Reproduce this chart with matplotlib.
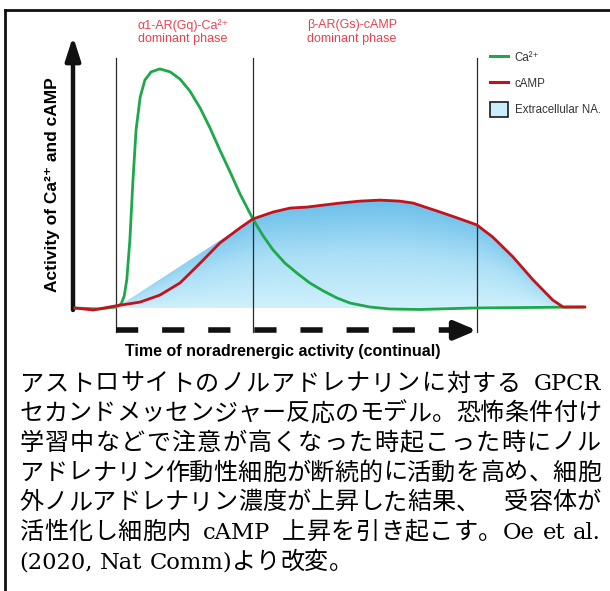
import numpy as np
import matplotlib
matplotlib.use("Agg")
import matplotlib.pyplot as plt
from matplotlib.colors import LinearSegmentedColormap
from matplotlib.lines import Line2D
from matplotlib.patches import Patch

# ---- values (time 0-100, activity 0-100) ----
ca_t = [0.4, 5.2, 8.3, 9.3, 9.9, 10.4, 11.0, 11.6, 12.2, 13.0, 13.9, 15.1, 16.8,
        18.8, 20.7, 22.6, 24.6, 26.5, 28.4, 30.4, 32.3, 34.8, 36.8, 38.7, 41.0,
        43.3, 45.8, 48.4, 51.1, 53.6, 57.4, 61.3, 67.1, 77.4, 98.6]
ca_y = [0.0, -0.4, 0.4, 1.6, 4.8, 11.3, 27.4, 51.6, 71.8, 85.1, 91.9, 95.2, 96.4,
        95.2, 92.3, 87.5, 80.6, 72.6, 63.7, 54.8, 46.0, 35.9, 29.0, 23.4, 18.1,
        14.1, 10.1, 6.9, 4.0, 2.0, 0.4, -0.4, -0.6, 0.0, 0.4]

camp_t = [0.4, 3.9, 8.1, 13.0, 16.8, 20.7, 24.6, 28.4, 32.3, 34.8, 38.7, 42.0,
          45.3, 51.6, 55.5, 59.4, 63.2, 65.8, 71.0, 74.9, 78.1, 81.2, 85.1,
          89.0, 92.8, 94.8, 99.0]
camp_y = [0.0, -0.8, 0.8, 2.4, 5.2, 10.1, 18.1, 26.2, 32.3, 35.9, 38.7, 40.3,
          40.7, 42.3, 43.1, 43.5, 43.1, 42.3, 38.7, 35.9, 33.5, 28.6, 20.6,
          11.3, 3.2, 0.4, 0.4]

na_t = [8.3, 34.8, 38.7, 42.0, 45.3, 51.6, 55.5, 59.4, 63.2, 65.8, 71.0, 74.9,
        78.1, 81.2, 85.1, 89.0, 92.8, 94.8, 95.5]
na_y = [0.0, 35.9, 38.7, 40.3, 40.7, 42.3, 43.1, 43.5, 43.1, 42.3, 38.7, 35.9,
        33.5, 28.6, 20.6, 11.3, 3.2, 0.4, 0.0]

phase_t = [8.3, 34.8, 78.1]
phase_labels = ["α1-AR(Gq)-Ca²⁺\ndominant phase", "β-AR(Gs)-cAMP\ndominant phase"]
phase_label_t = [21.3, 54.0]

legend_labels = ["Ca²⁺", "cAMP", "Extracellular NA."]

caption = [
    "アストロサイトのノルアドレナリンに対する GPCR",
    "セカンドメッセンジャー反応のモデル。恐怖条件付け",
    "学習中などで注意が高くなった時起こった時にノル",
    "アドレナリン作動性細胞が断続的に活動を高め、細胞",
    "外ノルアドレナリン濃度が上昇した結果、　受容体が",
    "活性化し細胞内 cAMP 上昇を引き起こす。Oe et al.",
    "(2020, Nat Comm)より改変。",
]

GREEN = "#1ea84c"
RED = "#c4121c"
PINK = "#e8424f"
SANS = ["Liberation Sans", "DejaVu Sans"]

W, H = 610, 591
fig = plt.figure(figsize=(W / 100, H / 100), dpi=100)
ax = fig.add_axes([73 / W, 1 - 308 / H, 517 / W, 248 / H])

# extracellular NA: blue shading, darker towards the upper edge
poly = ax.fill_between(na_t, 0, na_y, color="none", lw=0)
cmap = LinearSegmentedColormap.from_list("na", ["#d0f1fc", "#abdff6", "#6cc0ea"])
gx = np.linspace(min(na_t), max(na_t), 400)
gy = np.linspace(0, max(na_y), 200)
top = np.maximum(np.interp(gx, na_t, na_y), 1.0)
shade = 0.55 * (gy[:, None] / top[None, :]) + 0.45 * (gy[:, None] / max(na_y))
im = ax.imshow(np.clip(shade, 0, 1), extent=[gx[0], gx[-1], 0, gy[-1]],
               origin="lower", cmap=cmap, aspect="auto", zorder=1, vmin=0, vmax=1)
im.set_clip_path(poly.get_paths()[0], transform=ax.transData)

# phase boundaries
for t in phase_t:
    ax.plot([t, t], [-9.7, 100.8], color="#2a2a2a", lw=0.9, zorder=2, clip_on=False)

ax.plot(ca_t, ca_y, color=GREEN, lw=2.0, zorder=4, clip_on=False)
ax.plot(camp_t, camp_y, color=RED, lw=2.0, zorder=5, clip_on=False)

# y axis arrow
ax.annotate("", xy=(0, 109.5), xytext=(0, -0.8), annotation_clip=False,
            arrowprops=dict(arrowstyle="-|>,head_length=1.4,head_width=0.45",
                            color="#111", lw=3.2, shrinkA=0, shrinkB=0))

# dashed time arrow
ax.plot([phase_t[0], 73.8], [-9.0, -9.0], color="#111", lw=4,
        linestyle=(0, (4.0, 4.3)), clip_on=False, zorder=3)
ax.annotate("", xy=(phase_t[2], -9.0), xytext=(73.0, -9.0), annotation_clip=False,
            arrowprops=dict(arrowstyle="-|>,head_length=1.3,head_width=0.55",
                            color="#111", lw=4, shrinkA=0, shrinkB=0))

for lab, t in zip(phase_labels, phase_label_t):
    ax.text(t, 111.3, lab, color=PINK, fontsize=9, ha="center", va="center",
            linespacing=1.15, family=SANS)

ax.text(-3.9, 49.8, "Activity of Ca²⁺ and cAMP", rotation=90, fontsize=12.5,
        fontweight="bold", ha="center", va="center", family=SANS)
ax.text(40.6, -17.6, "Time of noradrenergic activity (continual)", fontsize=11.5,
        fontweight="bold", ha="center", va="center", family=SANS)

ax.set_xlim(0, 100)
ax.set_ylim(0, 100)
ax.axis("off")

handles = [Line2D([], [], color=GREEN, lw=2.2),
           Line2D([], [], color=RED, lw=2.2),
           Patch(facecolor="#c9eefb", edgecolor="#1a1a1a", lw=1.2)]
fig.legend(handles, legend_labels, loc="upper left",
           bbox_to_anchor=(490 / W, 1 - 50 / H), frameon=False, labelcolor="#333",
           handlelength=1.6, handleheight=1.6, handletextpad=0.55,
           labelspacing=0.98, borderaxespad=0, borderpad=0,
           prop={"family": SANS, "size": 8.3})

# caption: Japanese gothic + serif latin, justified like the source paragraph
EM = 24.1                     # px per full-width character
CJK_PT = EM * 0.72
LAT_PT = 16.3
CJK_FONT = ["Noto Sans CJK JP", "DejaVu Sans"]
LAT_FONT = ["DejaVu Serif", "Noto Sans CJK JP"]
X0, X1 = 19.5, 601.0
renderer = fig.canvas.get_renderer()


def tokenize(line):
    toks, word = [], ""
    for ch in line:
        if ch.isascii() and ch != " ":
            word += ch
            continue
        if word:
            toks.append(("lat", word))
            word = ""
        toks.append(("sp" if ch == " " else "cjk", ch))
    if word:
        toks.append(("lat", word))
    return toks


def draw_line(line, base_px, justify):
    toks = tokenize(line)
    yb = 1 - base_px / H
    widths, arts = [], []
    for i, (kind, s) in enumerate(toks):
        t = None
        if kind == "lat":
            t = fig.text(0, yb, s, fontsize=LAT_PT, family=LAT_FONT, ha="left",
                         va="baseline")
            widths.append(t.get_window_extent(renderer).width)
        elif kind == "sp":
            prev_lat = i > 0 and toks[i - 1][0] == "lat"
            next_lat = i + 1 < len(toks) and toks[i + 1][0] == "lat"
            widths.append(7.0 if prev_lat and next_lat else 11.0)
        else:
            if s != "　":
                # full-width glyph: pen at the start of its cell
                t = fig.text(0, yb, s, fontsize=CJK_PT, family=CJK_FONT,
                             ha="left", va="baseline")
            widths.append(EM)
        arts.append((t,))
    gap = (X1 - X0 - sum(widths)) / (len(toks) - 1) if justify else 0.0
    x = X0
    for (t,), w in zip(arts, widths):
        if t is not None:
            t.set_x(x / W)
        x += w + gap


for i, line in enumerate(caption):
    draw_line(line, 390.5 + 29.7 * i, i < len(caption) - 1)

# frame
fig.add_artist(Line2D([5 / W, 5 / W], [0, 1 - 10 / H], transform=fig.transFigure,
                      color="#111", lw=2))
fig.add_artist(Line2D([5 / W, 1], [1 - 10 / H, 1 - 10 / H], transform=fig.transFigure,
                      color="#111", lw=2))

fig.savefig("out.png", dpi=100)
